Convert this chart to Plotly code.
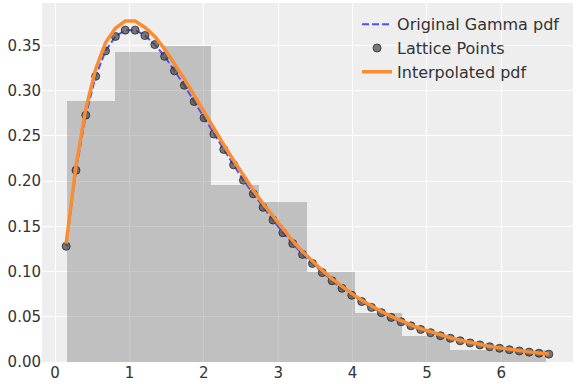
import plotly.graph_objects as go

# ---- data ----
bin_edges = [0.165, 0.809, 1.452, 2.096, 2.739, 3.383, 4.026, 4.670, 5.313, 5.957, 6.600]
hist_heights = [0.289, 0.343, 0.350, 0.1955, 0.177, 0.0996, 0.054, 0.0288, 0.0129, 0.0129]

lattice_x = [0.149, 0.281, 0.413, 0.546, 0.678, 0.811, 0.943, 1.076, 1.208, 1.341,
             1.473, 1.605, 1.738, 1.870, 2.003, 2.135, 2.268, 2.400, 2.532, 2.665,
             2.797, 2.930, 3.062, 3.195, 3.327, 3.460, 3.592, 3.724, 3.857, 3.989,
             4.122, 4.254, 4.387, 4.519, 4.652, 4.784, 4.916, 5.049, 5.181, 5.314,
             5.446, 5.579, 5.711, 5.843, 5.976, 6.108, 6.241, 6.373, 6.506, 6.638]
gamma_pdf = [0.128, 0.212, 0.273, 0.316, 0.344, 0.360, 0.367, 0.367, 0.361, 0.351,
             0.338, 0.322, 0.306, 0.288, 0.270, 0.252, 0.235, 0.218, 0.201, 0.186,
             0.171, 0.157, 0.143, 0.131, 0.119, 0.109, 0.0989, 0.0898, 0.0815, 0.0738,
             0.0668, 0.0604, 0.0546, 0.0493, 0.0444, 0.0400, 0.0360, 0.0324, 0.0291, 0.0262,
             0.0235, 0.0211, 0.0189, 0.0169, 0.0152, 0.0136, 0.0122, 0.0109, 0.0097, 0.0087]
interp_pdf = [0.131, 0.217, 0.280, 0.324, 0.353, 0.369, 0.377, 0.377, 0.370, 0.360,
              0.346, 0.330, 0.313, 0.295, 0.276, 0.258, 0.240, 0.223, 0.206, 0.190,
              0.175, 0.161, 0.147, 0.134, 0.122, 0.111, 0.1013, 0.0920, 0.0835, 0.0756,
              0.0684, 0.0619, 0.0559, 0.0505, 0.0455, 0.0410, 0.0369, 0.0332, 0.0298, 0.0268,
              0.0241, 0.0216, 0.0194, 0.0173, 0.0156, 0.0139, 0.0125, 0.0112, 0.0099, 0.0089]

x_ticks = [0, 1, 2, 3, 4, 5, 6]
y_ticks = [0.00, 0.05, 0.10, 0.15, 0.20, 0.25, 0.30, 0.35]

centers = [(bin_edges[i] + bin_edges[i + 1]) / 2 for i in range(len(hist_heights))]
widths = [bin_edges[i + 1] - bin_edges[i] for i in range(len(hist_heights))]

fig = go.Figure()
fig.add_trace(go.Bar(x=centers, y=hist_heights, width=widths,
                     marker=dict(color="rgba(128,128,128,0.42)", line=dict(width=0)),
                     showlegend=False, hoverinfo="skip"))
fig.add_trace(go.Scatter(x=lattice_x, y=gamma_pdf, mode="lines", name="Original Gamma pdf",
                         line=dict(color="rgb(80,80,240)", width=2, dash="7px,3px")))
fig.add_trace(go.Scatter(x=lattice_x, y=gamma_pdf, mode="markers", name="Lattice Points",
                         marker=dict(color="rgba(70,70,70,0.7)", size=8,
                                     line=dict(color="rgba(40,40,40,0.8)", width=1))))
fig.add_trace(go.Scatter(x=lattice_x, y=interp_pdf, mode="lines", name="Interpolated pdf",
                         line=dict(color="rgb(250,140,50)", width=3.5)))

fig.update_layout(
    width=576, height=384,
    margin=dict(l=42, r=3, t=3, b=22),
    paper_bgcolor="white", plot_bgcolor="#eeeeee",
    font=dict(family="DejaVu Sans", color="#333333", size=15),
    bargap=0,
    legend=dict(x=0.985, y=0.988, xanchor="right", yanchor="top",
                bgcolor="rgba(0,0,0,0)", font=dict(size=16, color="#333333"),
                tracegroupgap=0),
    xaxis=dict(range=[-0.176, 6.963], tickvals=x_ticks, showgrid=True, gridcolor="white",
               gridwidth=1, zeroline=False, ticks="", showline=False,
               tickfont=dict(size=15)),
    yaxis=dict(range=[0, 0.397], tickvals=y_ticks, tickformat=".2f", showgrid=True,
               gridcolor="white", gridwidth=1, zeroline=False, ticks="", showline=False,
               tickfont=dict(size=15)),
)

fig.write_html("out.html")
